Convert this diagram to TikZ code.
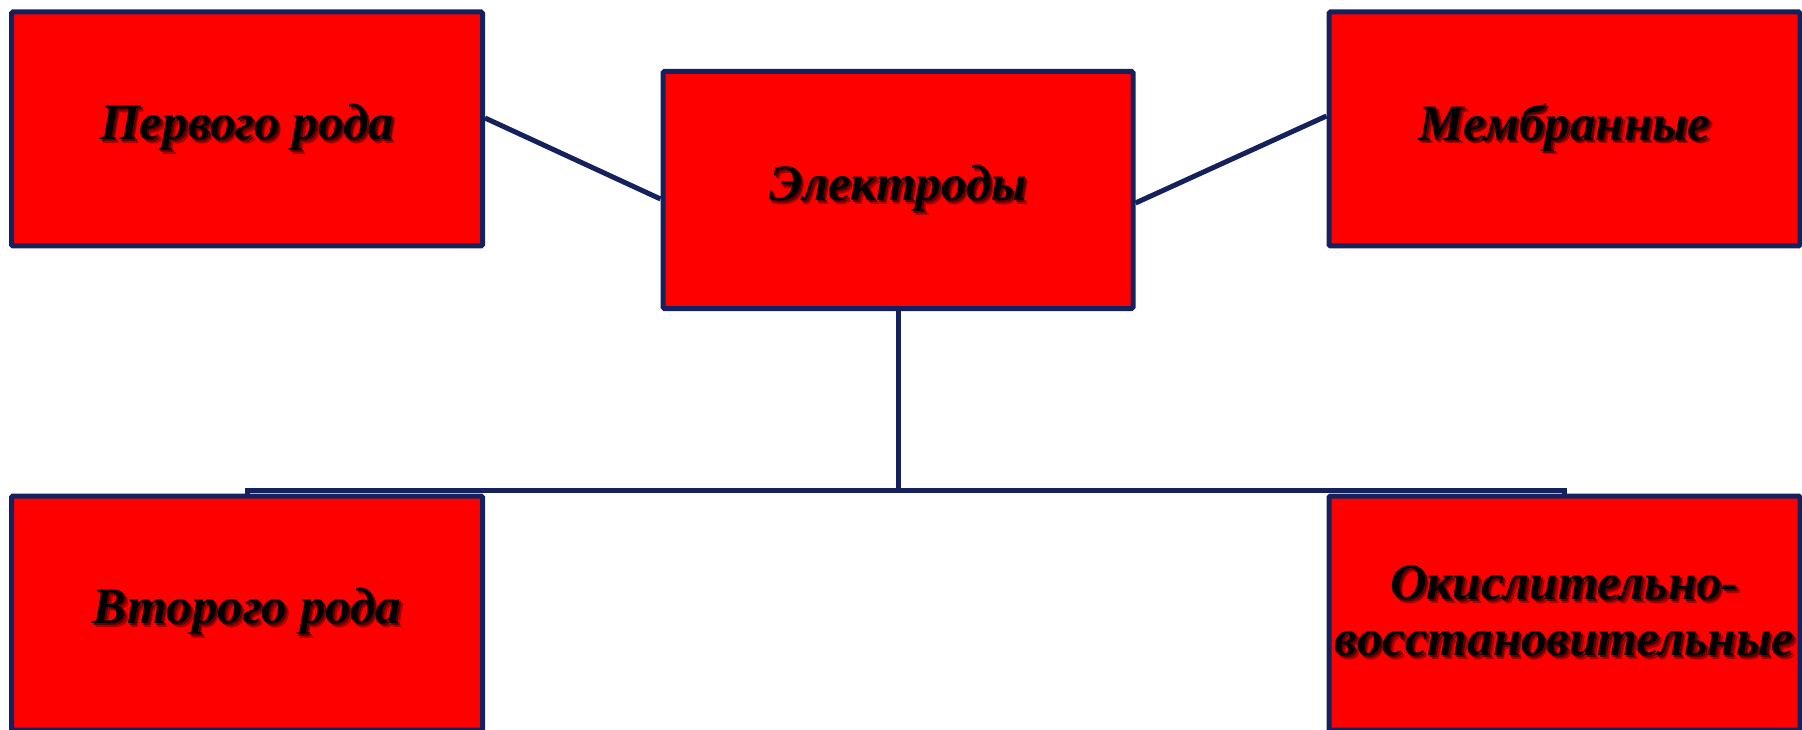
\documentclass[tikz,border=0pt]{standalone}
\usepackage{fontspec}
\setmainfont{Liberation Serif}
\definecolor{navy}{RGB}{20, 33, 92}
\definecolor{rd}{RGB}{255, 0, 0}
\definecolor{shd}{RGB}{95, 0, 0}
\definecolor{shdl}{RGB}{170, 0, 0}
\newcommand{\shtxt}[1]{\makebox[0pt][l]{\hspace{3.5pt}\raisebox{-3.5pt}{\color{shdl}#1}}\makebox[0pt][l]{\hspace{2pt}\raisebox{-2pt}{\color{shd}#1}}#1}
\usepackage{tikz}

\begin{document}
\begin{tikzpicture}[x=1pt, y=-1pt, thick, node distance=1cm,
  elbox/.style={rectangle, draw=navy, fill=rd, line width=5pt, rounded corners=1.5pt,
    minimum width=471pt, minimum height=234pt, inner sep=0pt, align=center,
    font=\fontsize{51}{56}\selectfont\bfseries\itshape},
  link/.style={draw=navy, line width=5pt}]
  \useasboundingbox (0,0) rectangle (1802,730);
  \clip (0,0) rectangle (1802,730);
  \node[elbox]  (E)  at (898,190) [minimum width=470pt, minimum height=237pt] {\shtxt{Электроды}};
  \node[elbox]  (T_1) [left of=E, node distance=651pt, yshift=61pt]    {\shtxt{Первого рода}};
  \node[elbox]  (T_2) [right of=E, node distance=666.5pt, yshift=61pt] {\shtxt{Мембранные}};
  \node[elbox]  (B_1) [below of=T_1, node distance=484pt] {\shtxt{Второго рода}};
  \node[elbox]  (B_2) [below of=T_2, node distance=484pt] {\shtxt{Окислительно-}\\\shtxt{восстановительные}};
  \coordinate (J) at (E.south |- 0,490);
  \path ([yshift=11pt]T_1.east) edge [link] ([yshift=-9pt]E.west)
        ([yshift=-13pt]E.east)  edge [link] ([yshift=13pt]T_2.west)
        ;
  \draw[link] (E.south) -- (J) -| (B_1.north);
  \draw[link] (J) -| (B_2.north);
\end{tikzpicture}
\end{document}
